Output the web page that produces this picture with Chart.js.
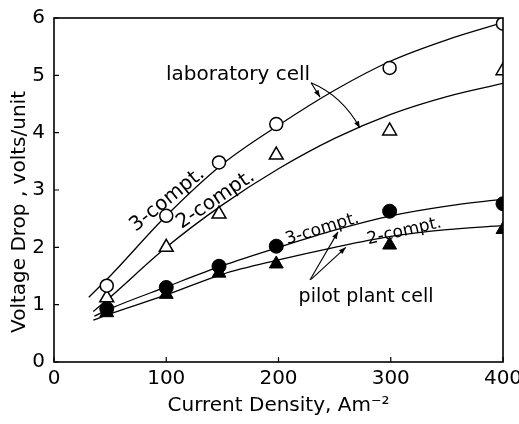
<!DOCTYPE html>
<html>
<head>
<meta charset="utf-8">
<script src="https://cdn.jsdelivr.net/npm/chart.js@4.4.1/dist/chart.umd.min.js"></script>
<style>
  html, body { margin: 0; padding: 0; background: #ffffff; }
  #c { display: block; }
</style>
</head>
<body>
<canvas id="c" width="519" height="424"></canvas>
<script>
// ---- data ----
const currentDensity = [47, 100, 147, 198, 299, 400];          // A m^-2 (measured points)
const lab3Points   = [1.33, 2.55, 3.48, 4.15, 5.13, 5.90];      // laboratory cell, 3-compt. (open circles)
const lab2Points   = [1.12, 2.00, 2.58, 3.61, 4.03, 5.08];      // laboratory cell, 2-compt. (open triangles)
const pilot3Points = [0.93, 1.30, 1.67, 2.02, 2.63, 2.76];      // pilot plant cell, 3-compt. (filled circles)
const pilot2Points = [0.86, 1.18, 1.55, 1.71, 2.04, 2.31];      // pilot plant cell, 2-compt. (filled triangles)

// fitted curves at these current densities
const lab3CurveX   = [31, 50, 100, 150, 200, 250, 300, 350, 400];
const lab3CurveY   = [1.13, 1.50, 2.55, 3.45, 4.13, 4.74, 5.25, 5.62, 5.92];
const lab2CurveX   = [35, 50, 100, 150, 200, 250, 300, 350, 400];
const lab2CurveY   = [0.88, 1.13, 2.00, 2.74, 3.37, 3.90, 4.32, 4.63, 4.86];
const pilot3CurveX = [36, 50, 100, 150, 200, 250, 300, 350, 400];
const pilot3CurveY = [0.80, 0.93, 1.31, 1.68, 2.00, 2.30, 2.55, 2.72, 2.84];
const pilot2CurveX = [35, 50, 100, 150, 200, 250, 300, 350, 400];
const pilot2CurveY = [0.73, 0.84, 1.17, 1.53, 1.78, 2.00, 2.19, 2.31, 2.38];

const xTicks = [0, 100, 200, 300, 400];
const yTicks = [0, 1, 2, 3, 4, 5, 6];

const xTitle = 'Current Density, Am\u207B\u00B2';
const yTitle = 'Voltage Drop , volts/unit';

// ---- annotation layout (data coordinates) ----
const FONT = 'DejaVu Sans';
const textNotes = [
  { text: 'laboratory cell',  x: 164, y: 4.92, size: 20, angle: 0,   baseline: 'alphabetic' },
  { text: 'pilot plant cell', x: 278, y: 1.05, size: 19, angle: 0,   baseline: 'alphabetic' },
  { text: '3-compt.',         x: 101, y: 2.83, size: 20, angle: -39, baseline: 'middle' },
  { text: '2-compt.',         x: 144, y: 2.83, size: 20, angle: -34, baseline: 'middle' },
  { text: '3-compt.',         x: 239, y: 2.32, size: 17, angle: -17, baseline: 'middle' },
  { text: '2-compt.',         x: 312, y: 2.28, size: 17, angle: -13, baseline: 'middle' }
];
const arrowNotes = [
  { from: [229, 4.87], to: [237, 4.62] },
  { from: [229, 4.87], ctrl: [257, 4.64], to: [272.5, 4.08] },
  { from: [228, 1.43], to: [253, 2.27] },
  { from: [229, 1.44], to: [260, 2.00] }
];

const pts = (xs, ys) => xs.map((x, i) => ({ x: x, y: ys[i] }));

const decorations = {
  id: 'decorations',
  afterDatasetsDraw(chart) {
    const ctx = chart.ctx;
    const xs = chart.scales.x, ys = chart.scales.y;
    const a = chart.chartArea;
    ctx.save();
    ctx.strokeStyle = '#000';
    ctx.fillStyle = '#000';

    // frame
    ctx.lineWidth = 1.6;
    ctx.strokeRect(a.left, a.top, a.right - a.left, a.bottom - a.top);

    // inward tick marks
    ctx.lineWidth = 1.2;
    ctx.beginPath();
    xTicks.forEach(v => {
      const px = xs.getPixelForValue(v);
      ctx.moveTo(px, a.bottom); ctx.lineTo(px, a.bottom - 5);
    });
    yTicks.forEach(v => {
      const py = ys.getPixelForValue(v);
      ctx.moveTo(a.left, py); ctx.lineTo(a.left + 5, py);
    });
    ctx.stroke();

    // y-axis title
    ctx.save();
    ctx.translate(20, 212);
    ctx.rotate(-Math.PI / 2);
    ctx.font = '20px "' + FONT + '"';
    ctx.textAlign = 'center';
    ctx.textBaseline = 'middle';
    ctx.fillText(yTitle, 0, 0);
    ctx.restore();

    // text annotations
    textNotes.forEach(n => {
      ctx.save();
      ctx.translate(xs.getPixelForValue(n.x), ys.getPixelForValue(n.y));
      ctx.rotate(n.angle * Math.PI / 180);
      ctx.font = n.size + 'px "' + FONT + '"';
      ctx.textAlign = 'center';
      ctx.textBaseline = n.baseline;
      ctx.fillText(n.text, 0, 0);
      ctx.restore();
    });

    // arrows
    ctx.lineWidth = 1.1;
    arrowNotes.forEach(n => {
      const x0 = xs.getPixelForValue(n.from[0]), y0 = ys.getPixelForValue(n.from[1]);
      const x1 = xs.getPixelForValue(n.to[0]),   y1 = ys.getPixelForValue(n.to[1]);
      let dx, dy;
      ctx.beginPath();
      ctx.moveTo(x0, y0);
      if (n.ctrl) {
        const cx = xs.getPixelForValue(n.ctrl[0]), cy = ys.getPixelForValue(n.ctrl[1]);
        ctx.quadraticCurveTo(cx, cy, x1, y1);
        dx = x1 - cx; dy = y1 - cy;
      } else {
        ctx.lineTo(x1, y1);
        dx = x1 - x0; dy = y1 - y0;
      }
      ctx.stroke();
      const len = Math.hypot(dx, dy);
      const ux = dx / len, uy = dy / len;
      const hl = 7, hw = 2.6;
      ctx.beginPath();
      ctx.moveTo(x1, y1);
      ctx.lineTo(x1 - ux * hl - uy * hw, y1 - uy * hl + ux * hw);
      ctx.lineTo(x1 - ux * hl + uy * hw, y1 - uy * hl - ux * hw);
      ctx.closePath();
      ctx.fill();
    });
    ctx.restore();
  }
};

const curveStyle = {
  type: 'line', borderColor: '#000', borderWidth: 1.3, pointRadius: 0,
  cubicInterpolationMode: 'monotone', tension: 0.4, fill: false, clip: 0
};

new Chart(document.getElementById('c'), {
  type: 'scatter',
  data: {
    datasets: [
      { label: 'laboratory cell 3-compt.', data: pts(currentDensity, lab3Points), pointStyle: 'circle',
        pointRadius: 6.5, pointBackgroundColor: '#fff', pointBorderColor: '#000', pointBorderWidth: 1.5, showLine: false, clip: 0 },
      { label: 'laboratory cell 2-compt.', data: pts(currentDensity, lab2Points), pointStyle: 'triangle',
        pointRadius: 8, pointBackgroundColor: '#fff', pointBorderColor: '#000', pointBorderWidth: 1.5, showLine: false, clip: 0 },
      { label: 'pilot plant cell 3-compt.', data: pts(currentDensity, pilot3Points), pointStyle: 'circle',
        pointRadius: 7, pointBackgroundColor: '#000', pointBorderColor: '#000', pointBorderWidth: 1, showLine: false, clip: 0 },
      { label: 'pilot plant cell 2-compt.', data: pts(currentDensity, pilot2Points), pointStyle: 'triangle',
        pointRadius: 8, pointBackgroundColor: '#000', pointBorderColor: '#000', pointBorderWidth: 1, showLine: false, clip: 0 },
      Object.assign({ label: 'laboratory cell 3-compt. fit', data: pts(lab3CurveX, lab3CurveY) }, curveStyle),
      Object.assign({ label: 'laboratory cell 2-compt. fit', data: pts(lab2CurveX, lab2CurveY) }, curveStyle),
      Object.assign({ label: 'pilot plant cell 3-compt. fit', data: pts(pilot3CurveX, pilot3CurveY) }, curveStyle),
      Object.assign({ label: 'pilot plant cell 2-compt. fit', data: pts(pilot2CurveX, pilot2CurveY) }, curveStyle)
    ]
  },
  options: {
    responsive: false,
    animation: false,
    devicePixelRatio: 1,
    layout: { padding: { top: 18, right: 16, left: 0, bottom: 0 } },
    plugins: { legend: { display: false }, tooltip: { enabled: false } },
    scales: {
      x: {
        type: 'linear', min: xTicks[0], max: xTicks[xTicks.length - 1],
        afterBuildTicks: s => { s.ticks = xTicks.map(v => ({ value: v })); },
        ticks: { color: '#000', font: { family: FONT, size: 20 }, padding: 5, maxRotation: 0, autoSkip: false },
        grid: { display: false, drawTicks: false },
        border: { display: false },
        title: { display: true, text: xTitle, color: '#000', font: { family: FONT, size: 20 }, padding: { top: 0, bottom: 6 } },
        afterFit: s => { s.height = 62; s.paddingLeft = 0; s.paddingRight = 0; }
      },
      y: {
        type: 'linear', min: yTicks[0], max: yTicks[yTicks.length - 1],
        afterBuildTicks: s => { s.ticks = yTicks.map(v => ({ value: v })); },
        ticks: { color: '#000', font: { family: FONT, size: 20 }, padding: 9, autoSkip: false },
        grid: { display: false, drawTicks: false },
        border: { display: false },
        afterFit: s => { s.width = 54; s.paddingTop = 0; s.paddingBottom = 0; }
      }
    }
  },
  plugins: [decorations]
});
</script>
</body>
</html>
